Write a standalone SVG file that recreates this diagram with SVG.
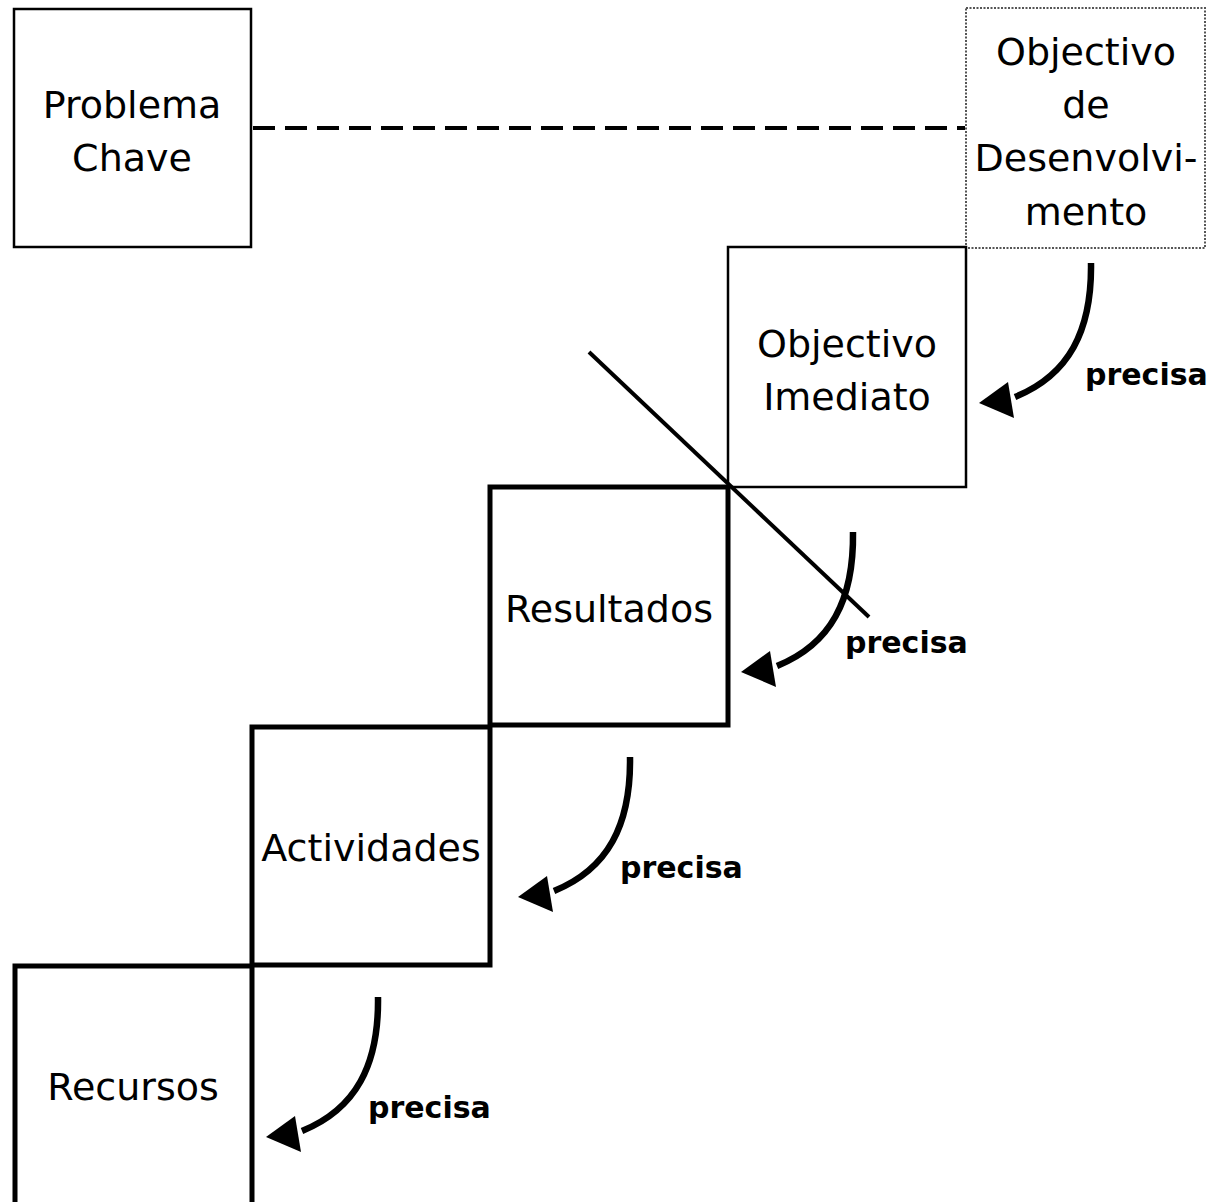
<svg xmlns="http://www.w3.org/2000/svg" xmlns:xlink="http://www.w3.org/1999/xlink" width="1222" height="1202" viewBox="0 0 1222 1202">
<style>
.box{fill:none;stroke:#000;}
.thin{stroke-width:2.5;}
.thick{stroke-width:5;}
.dotted{stroke:#555;stroke-width:2;stroke-dasharray:2 1.5;}
.lbl{font-family:"DejaVu Sans","Noto Sans",sans-serif;font-size:38px;text-anchor:middle;fill:#000;}
.pre{font-family:"DejaVu Sans","Noto Sans",sans-serif;font-size:30px;font-weight:bold;fill:#000;}
</style>
<defs>
<g id="arrow">
<path d="M0,0 C1,68 -22,112 -76,134" fill="none" stroke="#000" stroke-width="6.5"/>
<polygon points="-112,140 -83,119 -77,155" fill="#000"/>
</g>
</defs>
<rect width="1222" height="1202" fill="#fff"/>
<g id="connectors">
<line x1="253" y1="128" x2="965" y2="128" stroke="#000" stroke-width="4" stroke-dasharray="22 10"/>
<line x1="589" y1="352" x2="869" y2="617" stroke="#000" stroke-width="4"/>
<use xlink:href="#arrow" x="1091" y="263"/>
<use xlink:href="#arrow" x="853" y="532"/>
<use xlink:href="#arrow" x="630" y="757"/>
<use xlink:href="#arrow" x="378" y="997"/>
<text class="pre" x="1085" y="385">precisa</text>
<text class="pre" x="845" y="653">precisa</text>
<text class="pre" x="620" y="878">precisa</text>
<text class="pre" x="368" y="1118">precisa</text>
</g>
<g id="problema-chave">
<rect class="box thin" x="14" y="9" width="237" height="238"/>
<text class="lbl" x="132" y="118">Problema</text>
<text class="lbl" x="132" y="171">Chave</text>
</g>
<g id="objectivo-desenvolvimento">
<rect class="box dotted" x="966" y="8" width="239" height="240"/>
<text class="lbl" x="1086" y="65">Objectivo</text>
<text class="lbl" x="1086" y="118">de</text>
<text class="lbl" x="1086" y="171">Desenvolvi-</text>
<text class="lbl" x="1086" y="225">mento</text>
</g>
<g id="objectivo-imediato">
<rect class="box thin" x="728" y="247" width="238" height="240"/>
<text class="lbl" x="847" y="357">Objectivo</text>
<text class="lbl" x="847" y="410">Imediato</text>
</g>
<g id="resultados">
<rect class="box thick" x="490" y="487" width="238" height="238"/>
<text class="lbl" x="609" y="622">Resultados</text>
</g>
<g id="actividades">
<rect class="box thick" x="252" y="727" width="238" height="238"/>
<text class="lbl" x="371" y="861">Actividades</text>
</g>
<g id="recursos">
<path class="box thick" d="M15,1210 V966 H252 V1210"/>
<text class="lbl" x="133" y="1100">Recursos</text>
</g>
</svg>
